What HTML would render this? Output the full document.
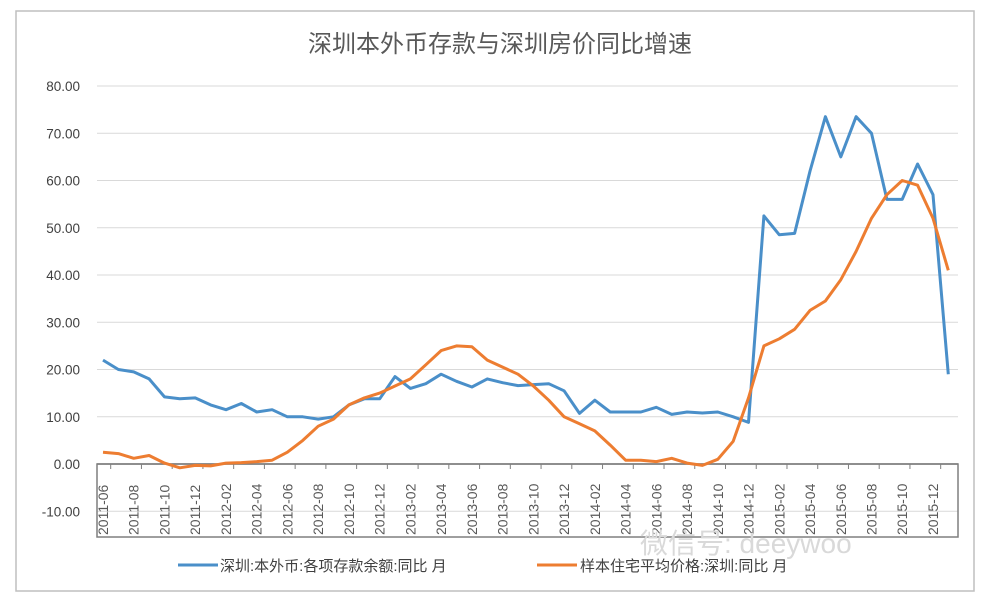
<!DOCTYPE html>
<html><head><meta charset="utf-8"><style>
body{margin:0;background:#fff;width:986px;height:605px;overflow:hidden}
svg text{font-family:"Liberation Sans","Noto Sans CJK SC",sans-serif}
</style></head><body>
<svg id="s" width="986" height="605" xmlns="http://www.w3.org/2000/svg">
<rect x="16" y="11" width="958" height="580" fill="#fff" stroke="#bfbfbf" stroke-width="1.5"/>
<text x="500" y="52" text-anchor="middle" font-size="24" fill="#595959">深圳本外币存款与深圳房价同比增速</text>
<g id="grid"></g>
<rect x="97" y="464" width="861" height="73" fill="none" stroke="#7f7f7f" stroke-width="1.5"/>
<g id="xl" font-size="14" fill="#595959"></g>
<g id="lines"></g>
<line x1="178" y1="565" x2="218" y2="565" stroke="#4a8fc9" stroke-width="3"/>
<text x="220" y="571" font-size="15" fill="#404040">深圳:本外币:各项存款余额:同比 月</text>
<line x1="537" y1="565" x2="577" y2="565" stroke="#ed7d31" stroke-width="3"/>
<text x="580" y="571" font-size="15" fill="#404040">样本住宅平均价格:深圳:同比 月</text>
<text x="640" y="553" font-size="28" fill="#d9d9d9">微信号: deeywoo</text>
</svg>
<script>
var ns="http://www.w3.org/2000/svg";
function el(t,a,p,txt){var e=document.createElementNS(ns,t);for(var k in a)e.setAttribute(k,a[k]);if(txt)e.textContent=txt;document.getElementById(p).appendChild(e);}
function Y(v){return 464-v*4.725;}
function X(i){return 103+i*15.37;}
for(var v=80;v>=-10;v-=10){var y=Y(v);
 if(v!==0)el("line",{x1:97,y1:y,x2:958,y2:y,stroke:"#d9d9d9","stroke-width":1},"grid");
 el("text",{x:80,y:y+5,"text-anchor":"end","font-size":13.5,fill:"#404040"},"grid",v.toFixed(2));}
el("line",{x1:97,y1:464,x2:958,y2:464,stroke:"#7f7f7f","stroke-width":1.5},"grid");
for(var i=0;i<28;i++){var m=6+i*2;var yr=2011+Math.floor((m-1)/12);var mo=((m-1)%12)+1;
 var t=yr+"-"+(mo<10?"0":"")+mo;var x=X(i*2);
 el("text",{x:0,y:0,transform:"translate("+(x+5)+",535) rotate(-90)"},"xl",t);
 el("line",{x1:x+7.7,y1:464,x2:x+7.7,y2:469,stroke:"#7f7f7f"},"xl");}
var b=[22,20,19.5,18,14.2,13.8,14,12.5,11.5,12.8,11,11.5,10,10,9.5,10,12.5,13.8,13.8,18.5,16,17,19,17.5,16.3,18,17.2,16.6,16.8,17,15.5,10.7,13.5,11,11,11,12,10.5,11,10.8,11,10,8.8,52.5,48.5,48.8,62,73.5,65,73.5,70,56,56,63.5,57,19];
var o=[2.5,2.2,1.2,1.8,0.2,-0.8,-0.3,-0.4,0.2,0.3,0.5,0.8,2.5,5,8,9.5,12.5,14,15,16.5,18,21,24,25,24.8,22,20.5,19,16.5,13.5,10,8.5,7,4,0.8,0.8,0.5,1.2,0.2,-0.3,1,4.8,14,25,26.5,28.5,32.5,34.5,39,45,52,57,60,59,52,41];
function pl(d,c){el("polyline",{points:d.map(function(v,i){return X(i).toFixed(1)+","+Y(v).toFixed(1)}).join(" "),fill:"none",stroke:c,"stroke-width":3,"stroke-linejoin":"round"},"lines");}
pl(b,"#4a8fc9");pl(o,"#ed7d31");
</script>
</body></html>
